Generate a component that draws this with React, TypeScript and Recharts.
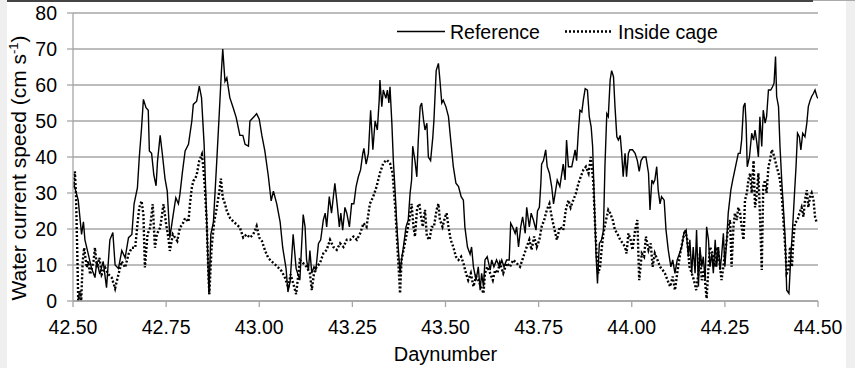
import { LineChart, Line, XAxis, YAxis, CartesianGrid } from 'recharts';

// Day numbers and speeds (cm/s)
const refDay = [
  42.501, 42.514, 42.523, 42.528, 42.532, 42.541, 42.55, 42.559, 42.564, 42.572, 42.581, 42.59, 42.599, 42.607,
  42.613, 42.622, 42.631, 42.64, 42.649, 42.658, 42.664, 42.673, 42.678, 42.684, 42.689, 42.696, 42.702, 42.705,
  42.711, 42.717, 42.723, 42.727, 42.734, 42.74, 42.747, 42.753, 42.76, 42.769, 42.776, 42.783, 42.787, 42.794,
  42.801, 42.81, 42.819, 42.823, 42.832, 42.839, 42.845, 42.852, 42.859, 42.865, 42.87, 42.877, 42.886, 42.893,
  42.898, 42.902, 42.908, 42.913, 42.921, 42.93, 42.938, 42.944, 42.948, 42.956, 42.962, 42.971, 42.975, 42.984,
  42.993, 43.0, 43.007, 43.015, 43.024, 43.032, 43.038, 43.047, 43.056, 43.063, 43.072, 43.077, 43.083, 43.091,
  43.099, 43.109, 43.118, 43.123, 43.127, 43.132, 43.136, 43.141, 43.147, 43.152, 43.159, 43.165, 43.172, 43.177,
  43.181, 43.188, 43.194, 43.203, 43.21, 43.215, 43.219, 43.224, 43.23, 43.235, 43.242, 43.248, 43.254, 43.26,
  43.266, 43.272, 43.278, 43.281, 43.287, 43.293, 43.299, 43.305, 43.311, 43.317, 43.322, 43.324, 43.329, 43.333,
  43.34, 43.344, 43.348, 43.351, 43.356, 43.36, 43.365, 43.369, 43.373, 43.378, 43.382, 43.387, 43.394, 43.4,
  43.405, 43.409, 43.412, 43.418, 43.423, 43.427, 43.432, 43.436, 43.441, 43.445, 43.45, 43.454, 43.46, 43.466,
  43.469, 43.475, 43.481, 43.485, 43.49, 43.494, 43.501, 43.508, 43.514, 43.521, 43.528, 43.535, 43.542, 43.548,
  43.552, 43.559, 43.566, 43.57, 43.575, 43.582, 43.588, 43.593, 43.597, 43.602, 43.606, 43.612, 43.62, 43.624,
  43.63, 43.637, 43.645, 43.651, 43.657, 43.664, 43.671, 43.675, 43.68, 43.687, 43.691, 43.696, 43.702, 43.707,
  43.714, 43.718, 43.725, 43.73, 43.736, 43.743, 43.747, 43.752, 43.756, 43.758, 43.763, 43.769, 43.773, 43.779,
  43.785, 43.79, 43.794, 43.8, 43.807, 43.816, 43.821, 43.825, 43.83, 43.839, 43.848, 43.852, 43.857, 43.861,
  43.866, 43.87, 43.875, 43.881, 43.886, 43.891, 43.895, 43.9, 43.904, 43.908, 43.913, 43.919, 43.924, 43.928,
  43.933, 43.937, 43.942, 43.946, 43.951, 43.955, 43.96, 43.964, 43.969, 43.973, 43.977, 43.982, 43.986, 43.991,
  43.995, 44.002, 44.009, 44.015, 44.02, 44.025, 44.031, 44.038, 44.045, 44.049, 44.054, 44.058, 44.062, 44.067,
  44.071, 44.076, 44.08, 44.087, 44.092, 44.098, 44.105, 44.11, 44.116, 44.122, 44.128, 44.134, 44.14, 44.146,
  44.152, 44.156, 44.161, 44.165, 44.17, 44.174, 44.179, 44.183, 44.188, 44.192, 44.197, 44.201, 44.206, 44.21,
  44.215, 44.219, 44.224, 44.228, 44.233, 44.237, 44.241, 44.246, 44.25, 44.255, 44.259, 44.266, 44.271, 44.275,
  44.28, 44.286, 44.291, 44.295, 44.3, 44.304, 44.307, 44.31, 44.316, 44.322, 44.327, 44.331, 44.336, 44.34,
  44.344, 44.349, 44.353, 44.358, 44.362, 44.367, 44.373, 44.378, 44.382, 44.386, 44.389, 44.394, 44.398, 44.403,
  44.407, 44.412, 44.416, 44.422, 44.427, 44.432, 44.437, 44.441, 44.445, 44.45, 44.454, 44.459, 44.465, 44.47,
  44.474, 44.479, 44.483, 44.488, 44.492, 44.497, 44.5,
];
const refSpeed = [
  33, 28, 18.5, 22, 17, 13, 9, 6.5, 11, 7.5, 11, 3.7, 17, 19,
  10, 9, 14, 12, 17.6, 18.5, 27, 31.5, 40, 48, 56, 53.7, 53, 41.7,
  41, 35, 32, 39, 46, 40.7, 34, 30.5, 17.6, 24, 28.7, 27, 29.6, 36,
  41.7, 43.5, 50, 54.6, 55.5, 59.7, 56.5, 43.5, 22, 1.9, 18.5, 22, 39, 52.8,
  63, 70, 61, 62, 56.5, 53.7, 51, 48, 46, 46, 43.5, 43, 50, 51,
  52, 50.5, 46, 41.7, 35, 27.8, 30.5, 27, 22, 14.8, 9, 2.5, 5.5, 18.5,
  9, 5.8, 24, 20.6, 11.4, 8.6, 14, 7.7, 9.5, 8.6, 16, 17, 22.5, 24.4,
  20.6, 29, 24.4, 32.7, 26, 20.6, 24.4, 19.7, 26, 24.4, 20.6, 27, 27, 31.8,
  34.5, 36.4, 41, 42.4, 38, 41, 53, 42, 50, 47.5, 55.8, 61.4, 54, 58.6,
  56.3, 58.6, 55, 59.5, 49.4, 39, 30, 21.6, 15, 7.7, 11.4, 15, 20.6, 22.5,
  30, 33.6, 43, 39, 34.5, 44.7, 54, 55, 50.3, 47.5, 49.4, 40, 39, 45.6,
  50.3, 64, 66, 61.4, 55, 55.8, 54, 51.2, 44.7, 37.3, 32.7, 31.8, 29, 28,
  20.6, 15, 13, 15, 9.5, 5.8, 9.5, 3, 7.7, 4, 11.4, 12.3, 8.6, 11.4,
  9.5, 11.4, 9.5, 11.4, 9.5, 11.4, 11.4, 21.6, 20.6, 18.8, 20.6, 15, 20.6, 23.4,
  18.8, 26, 20.6, 24.4, 22.5, 19.7, 25, 26, 32.7, 38, 39, 42, 37.3, 35.5,
  31.8, 27, 29.6, 33.6, 31.8, 38, 33.6, 44.7, 37.3, 37.3, 42, 39, 47.5, 53,
  52.5, 55.8, 59, 58.6, 51.2, 48.4, 42.9, 26, 13.2, 4.9, 16, 17, 19.7, 37.3,
  52, 51.2, 61.4, 64, 62.3, 54, 45.6, 44.7, 46, 41, 34.5, 41, 34.5, 41,
  42, 42, 41, 39, 36, 39, 40, 40, 35.5, 25.3, 33.6, 32.7, 33.6, 37.3,
  30.8, 27, 29, 28, 19.7, 14.2, 9.5, 11.4, 7.7, 11.4, 13.2, 15, 18.8, 19.7,
  12.3, 17, 7.7, 15, 7.7, 19.7, 4, 15, 9.5, 12.3, 5.8, 20.6, 17, 9.5,
  13.2, 7.7, 17, 9.5, 15, 8.6, 12.3, 18.8, 9.5, 17, 24.4, 30.8, 33.6, 35.5,
  38, 41, 41, 44.7, 54, 55, 49.4, 37.3, 40, 46.6, 44.7, 47.5, 43.8, 40,
  51.2, 42.9, 53, 49.4, 51.2, 58.6, 58.6, 59.5, 60.5, 67.9, 56.8, 54, 42.9, 32.7,
  26, 17, 3, 2.1, 12.3, 20.6, 30, 37.3, 46.6, 45.6, 42, 46.6, 45.6, 49.4,
  54, 55.8, 56.8, 57.7, 58.6, 56.8, 56.3,
];

const cageDay = [
  42.501, 42.505, 42.508, 42.512, 42.514, 42.519, 42.522, 42.526, 42.53, 42.532, 42.537, 42.541, 42.546, 42.555,
  42.559, 42.564, 42.571, 42.577, 42.586, 42.595, 42.604, 42.613, 42.622, 42.631, 42.64, 42.649, 42.658, 42.667,
  42.673, 42.678, 42.684, 42.689, 42.693, 42.7, 42.707, 42.714, 42.72, 42.725, 42.734, 42.743, 42.75, 42.756,
  42.76, 42.768, 42.774, 42.78, 42.787, 42.794, 42.801, 42.81, 42.814, 42.819, 42.823, 42.828, 42.832, 42.839,
  42.846, 42.85, 42.854, 42.859, 42.863, 42.866, 42.872, 42.879, 42.886, 42.893, 42.897, 42.902, 42.908, 42.913,
  42.922, 42.931, 42.939, 42.948, 42.957, 42.966, 42.975, 42.984, 42.993, 43.0, 43.007, 43.016, 43.024, 43.033,
  43.042, 43.051, 43.06, 43.069, 43.078, 43.084, 43.092, 43.099, 43.105, 43.109, 43.118, 43.127, 43.136, 43.141,
  43.147, 43.154, 43.163, 43.172, 43.181, 43.19, 43.199, 43.208, 43.217, 43.226, 43.235, 43.244, 43.253, 43.262,
  43.271, 43.28, 43.288, 43.297, 43.306, 43.315, 43.324, 43.333, 43.342, 43.351, 43.358, 43.365, 43.371, 43.378,
  43.382, 43.389, 43.396, 43.403, 43.409, 43.414, 43.418, 43.424, 43.43, 43.433, 43.439, 43.445, 43.45, 43.457,
  43.463, 43.469, 43.476, 43.481, 43.485, 43.492, 43.499, 43.503, 43.508, 43.514, 43.521, 43.528, 43.535, 43.542,
  43.548, 43.555, 43.561, 43.568, 43.575, 43.582, 43.588, 43.595, 43.602, 43.606, 43.612, 43.62, 43.627, 43.633,
  43.639, 43.646, 43.655, 43.664, 43.673, 43.682, 43.691, 43.7, 43.709, 43.718, 43.725, 43.731, 43.738, 43.745,
  43.752, 43.758, 43.765, 43.772, 43.779, 43.785, 43.791, 43.799, 43.807, 43.816, 43.823, 43.83, 43.836, 43.843,
  43.85, 43.857, 43.863, 43.87, 43.877, 43.884, 43.89, 43.893, 43.897, 43.901, 43.906, 43.91, 43.915, 43.919,
  43.924, 43.931, 43.937, 43.942, 43.949, 43.955, 43.961, 43.969, 43.976, 43.982, 43.986, 43.991, 43.997, 44.002,
  44.009, 44.015, 44.02, 44.027, 44.033, 44.038, 44.045, 44.051, 44.056, 44.062, 44.069, 44.076, 44.083, 44.089,
  44.096, 44.103, 44.11, 44.116, 44.122, 44.13, 44.137, 44.143, 44.149, 44.155, 44.161, 44.167, 44.173, 44.179,
  44.183, 44.188, 44.194, 44.201, 44.206, 44.21, 44.217, 44.224, 44.23, 44.235, 44.241, 44.246, 44.25, 44.255,
  44.259, 44.264, 44.268, 44.273, 44.277, 44.282, 44.286, 44.291, 44.295, 44.3, 44.304, 44.309, 44.313, 44.318,
  44.322, 44.327, 44.331, 44.336, 44.34, 44.344, 44.349, 44.353, 44.358, 44.362, 44.367, 44.371, 44.376, 44.38,
  44.385, 44.389, 44.394, 44.398, 44.403, 44.407, 44.412, 44.416, 44.421, 44.425, 44.43, 44.434, 44.438, 44.445,
  44.45, 44.456, 44.461, 44.465, 44.47, 44.474, 44.479, 44.483, 44.488, 44.492, 44.497,
];
const cageSpeed = [
  31.5, 36, 29.6, 11, 0, 2.8, 0, 11, 14.8, 13, 9.3, 11, 7.4, 11,
  14.8, 9.3, 12, 7.4, 9.3, 7.4, 6.5, 3.5, 7.4, 11, 9.3, 13, 14.8, 14.8,
  21.3, 26, 27.8, 24, 9.3, 18.5, 20.4, 26.9, 14.8, 18.5, 20.4, 26.9, 21.3, 17.6,
  13.9, 18.5, 17.6, 16.7, 20.4, 21.3, 23, 22, 27, 31.5, 33.3, 34, 35, 39,
  40.7, 37, 31.5, 22, 9.3, 1.9, 14.8, 22, 26, 30.5, 34, 28.7, 27, 25,
  23, 22, 21.3, 20.4, 17.6, 18.5, 17.6, 18.5, 20.8, 17.6, 16.7, 13.9, 12, 11,
  10.2, 9.3, 8.3, 6.5, 3.7, 7.4, 4.6, 1.9, 7.4, 11.4, 10.5, 9.5, 7.7, 3,
  7.7, 9.5, 10.5, 13.2, 14.2, 17, 15, 14.2, 16, 15, 17, 17, 17.9, 17,
  18.8, 21.6, 20.6, 27, 29, 31.8, 35.5, 38.3, 39.2, 38.3, 35.5, 26, 15, 2.1,
  11.4, 15, 18.8, 22.5, 27, 20.6, 17.9, 26, 27, 24.4, 20.6, 25.3, 17.9, 17,
  20.6, 20.6, 25.3, 27, 22.5, 20.6, 23.4, 24.4, 20.6, 17, 15, 12.3, 11.4, 12.3,
  10.5, 7.7, 5.8, 7.7, 4, 6.8, 5.8, 4, 2.1, 7.7, 9.5, 7.7, 5.8, 8.6,
  7.7, 10.5, 7.7, 10.5, 9.5, 11.4, 10.5, 9.5, 12.3, 15, 17, 14.2, 17.9, 15,
  17, 20.6, 22.5, 25.3, 27, 23.4, 20.6, 17, 20.6, 19.7, 25.3, 28, 26, 28,
  29.9, 32.7, 34.5, 36.4, 37.3, 35.5, 40, 37.3, 32.7, 22.5, 12.3, 7.7, 9.5, 14.2,
  18.8, 22.5, 25.3, 24.4, 22.5, 19.7, 18.8, 17, 16, 15, 13.2, 18.8, 17, 14.2,
  19.7, 22.5, 5.8, 13.2, 12.3, 17.9, 14.2, 16, 9.5, 13.2, 11.4, 9.5, 8.6, 7.7,
  5.8, 4, 6.8, 3, 7.7, 13.2, 17, 19.7, 17, 9.5, 7.7, 5.8, 3, 7.7,
  13.2, 5.8, 8.6, 0.7, 9.5, 15, 13.2, 9.5, 15, 11.4, 5.8, 9.5, 13.2, 17,
  20.6, 22.5, 9.5, 20.6, 24.4, 22.5, 26, 24.4, 20.6, 17, 28, 30, 33.6, 35.5,
  30, 39, 26, 30, 35.5, 24.4, 8.6, 31.8, 33.6, 30, 37.3, 39, 42, 41,
  39, 37.3, 35.5, 33.6, 29, 22.5, 15, 7.7, 8.6, 15, 9.5, 17, 21.6, 22.5,
  24.4, 26, 23.4, 28, 30.8, 26, 29, 30, 28, 23.4, 21.6,
];

const dayTicks = [42.5, 42.75, 43, 43.25, 43.5, 43.75, 44, 44.25, 44.5];
const speedTicks = [0, 10, 20, 30, 40, 50, 60, 70, 80];

const refData = refDay.map((d, i) => ({ day: d, speed: refSpeed[i] }));
const cageData = cageDay.map((d, i) => ({ day: d, speed: cageSpeed[i] }));

const GRID = '#a6a6a6';
const FONT = "'Liberation Sans', Arial, sans-serif";

const YTitle = () => (
  <text transform="translate(25.5,168) rotate(-90)" textAnchor="middle" fontSize={21} fill="#000">
    Water current speed (cm s
    <tspan dy={-8} fontSize={13}>-1</tspan>
    <tspan dy={8}>)</tspan>
  </text>
);

export default function App() {
  return (
    <div style={{ position: 'absolute', left: 0, top: 0, width: 855, height: 368, background: '#efefef', fontFamily: FONT }}>
      <div style={{ position: 'absolute', left: 7, top: 0, width: 839, height: 368, background: '#fff' }} />
      <div style={{ position: 'absolute', left: 7, top: 0, width: 806, height: 2, background: '#444' }} />
      <div style={{ position: 'absolute', left: 813, top: 0, width: 42, height: 1, background: '#aaa' }} />
      <div style={{ position: 'absolute', left: 0, top: 0 }}>
        <LineChart width={855} height={368} data={refData} margin={{ top: 13, right: 37, left: 0, bottom: 0 }}>
          <CartesianGrid vertical={false} stroke={GRID} strokeWidth={1.3} />
          <XAxis
            dataKey="day"
            type="number"
            domain={[42.5, 44.5]}
            ticks={dayTicks}
            interval={0}
            allowDataOverflow
            tickFormatter={(v: number) => v.toFixed(2)}
            height={67}
            tickSize={6}
            tickMargin={13}
            axisLine={{ stroke: GRID, strokeWidth: 1.3 }}
            tickLine={{ stroke: GRID, strokeWidth: 1.3 }}
            tick={{ fill: '#000', fontSize: 19.5 }}
            label={{ value: 'Daynumber', position: 'insideBottom', offset: 7, fill: '#000', fontSize: 20 }}
          />
          <YAxis
            type="number"
            domain={[0, 80]}
            ticks={speedTicks}
            interval={0}
            width={73}
            tickSize={6}
            tickMargin={10}
            axisLine={{ stroke: GRID, strokeWidth: 1.3 }}
            tickLine={{ stroke: GRID, strokeWidth: 1.3 }}
            tick={{ fill: '#000', fontSize: 19.5 }}
            label={<YTitle />}
          />
          <Line
            data={cageData}
            dataKey="speed"
            type="linear"
            stroke="#000"
            strokeWidth={2.4}
            strokeDasharray="2 2"
            dot={false}
            activeDot={false}
            isAnimationActive={false}
            name="Inside cage"
          />
          <Line
            data={refData}
            dataKey="speed"
            type="linear"
            stroke="#000"
            strokeWidth={1.4}
            dot={false}
            activeDot={false}
            isAnimationActive={false}
            name="Reference"
          />
        </LineChart>
      </div>
      <svg width={855} height={60} style={{ position: 'absolute', left: 0, top: 0, pointerEvents: 'none' }}>
        <line x1={397} y1={31.5} x2={445} y2={31.5} stroke="#000" strokeWidth={1.4} />
        <text x={450} y={38.5} fontSize={19.5} fill="#000">Reference</text>
        <line x1={565} y1={31.5} x2={611} y2={31.5} stroke="#000" strokeWidth={2.4} strokeDasharray="2 2" />
        <text x={618} y={38.5} fontSize={19.5} fill="#000">Inside cage</text>
      </svg>
    </div>
  );
}
